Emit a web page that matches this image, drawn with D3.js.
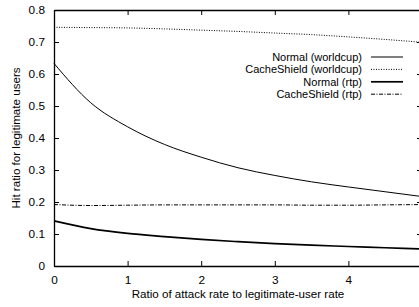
<!DOCTYPE html>
<html>
<head>
<meta charset="utf-8">
<script src="https://cdn.jsdelivr.net/npm/d3@7"></script>
<style>
  body { margin: 0; background: #fff; }
  svg { font-family: "Liberation Sans", Arial, sans-serif; }
  .axis text { font-size: 11.8px; fill: #000; }
</style>
</head>
<body>
<div class="chart"></div>
<script>
// x values (ratio of attack rate to legitimate-user rate)
const ratios = [0, 0.5, 1, 1.5, 2, 2.5, 3, 3.5, 4, 4.5, 5];
const normalWorldcup = [0.633, 0.51, 0.435, 0.38, 0.34, 0.307, 0.283, 0.263, 0.247, 0.232, 0.217];
const shieldWorldcup = [0.746, 0.745, 0.744, 0.741, 0.737, 0.733, 0.728, 0.723, 0.716, 0.708, 0.699];
const normalRtp = [0.141, 0.117, 0.102, 0.092, 0.083, 0.076, 0.070, 0.065, 0.061, 0.057, 0.053];
const shieldRtp = [0.192, 0.189, 0.190, 0.191, 0.191, 0.191, 0.191, 0.190, 0.190, 0.191, 0.192];
const xTicks = [0, 1, 2, 3, 4];
const yTicks = [0, 0.1, 0.2, 0.3, 0.4, 0.5, 0.6, 0.7, 0.8];

const series = [
  { name: 'Normal (worldcup)', values: normalWorldcup, width: 1, dash: null },
  { name: 'CacheShield (worldcup)', values: shieldWorldcup, width: 1, dash: '1,1.5' },
  { name: 'Normal (rtp)', values: normalRtp, width: 1.7, dash: null },
  { name: 'CacheShield (rtp)', values: shieldRtp, width: 1, dash: '4,1.5,1,1.5' }
];

function graph() {
  let margin = { top: 10, left: 54 };
  let width = 368;
  let height = 256;

  let xScale = d3.scaleLinear().domain([0, 5]).range([0, width]);
  let yScale = d3.scaleLinear().domain([0, 0.8]).range([height, 0]);

  let root = d3
    .select('.chart')
    .append('svg')
    .attr('width', 419)
    .attr('height', 307);

  let svg = root.append('g').attr('transform', `translate(${margin.left}, ${margin.top})`);

  // axes with inward ticks
  svg.append('g').attr('class', 'axis')
    .attr('transform', `translate(0,${height})`)
    .call(d3.axisBottom(xScale).tickValues(xTicks).tickFormat(d3.format('d')).tickSizeInner(-5).tickSizeOuter(0).tickPadding(10));
  svg.append('g').attr('class', 'axis')
    .call(d3.axisTop(xScale).tickValues(xTicks).tickFormat('').tickSizeInner(-5).tickSizeOuter(0));
  svg.append('g').attr('class', 'axis')
    .call(d3.axisLeft(yScale).tickValues(yTicks).tickFormat(d => d === 0 ? '0' : d3.format('.1f')(d)).tickSizeInner(-5).tickSizeOuter(0).tickPadding(9));
  svg.append('g').attr('class', 'axis')
    .attr('transform', `translate(${width},0)`)
    .call(d3.axisRight(yScale).tickValues(yTicks).tickFormat('').tickSizeInner(-5).tickSizeOuter(0));
  svg.selectAll('.axis .domain').attr('stroke', '#000').attr('stroke-width', 1.3);
  svg.selectAll('.axis .tick line').attr('stroke', '#000');

  let line = d3
    .line()
    .x(function (d, i) {
      return xScale(ratios[i]);
    })
    .y(function (d) {
      return yScale(d);
    })
    .curve(d3.curveMonotoneX);

  series.forEach(function (s) {
    svg.append('path')
      .datum(s.values)
      .attr('fill', 'none')
      .attr('stroke', '#000')
      .attr('stroke-width', s.width)
      .attr('stroke-dasharray', s.dash)
      .attr('d', line);
  });

  // legend
  let legend = root.append('g').attr('transform', 'translate(362, 57)');
  series.forEach(function (s, i) {
    let y = i * 12.4;
    legend.append('text')
      .attr('x', 0).attr('y', y + 4)
      .attr('text-anchor', 'end')
      .style('font-size', '11px')
      .text(s.name);
    legend.append('line')
      .attr('x1', 9).attr('x2', 41)
      .attr('y1', y).attr('y2', y)
      .attr('stroke', '#000')
      .attr('stroke-width', s.width)
      .attr('stroke-dasharray', s.dash);
  });

  // axis titles
  root.append('text')
    .attr('x', margin.left + width / 2).attr('y', 298)
    .attr('text-anchor', 'middle')
    .style('font-size', '11.6px')
    .text('Ratio of attack rate to legitimate-user rate');
  root.append('text')
    .attr('transform', `translate(20, ${margin.top + height / 2}) rotate(-90)`)
    .attr('text-anchor', 'middle')
    .style('font-size', '11.6px')
    .text('Hit ratio for legitimate users');
}

graph();
</script>
</body>
</html>
